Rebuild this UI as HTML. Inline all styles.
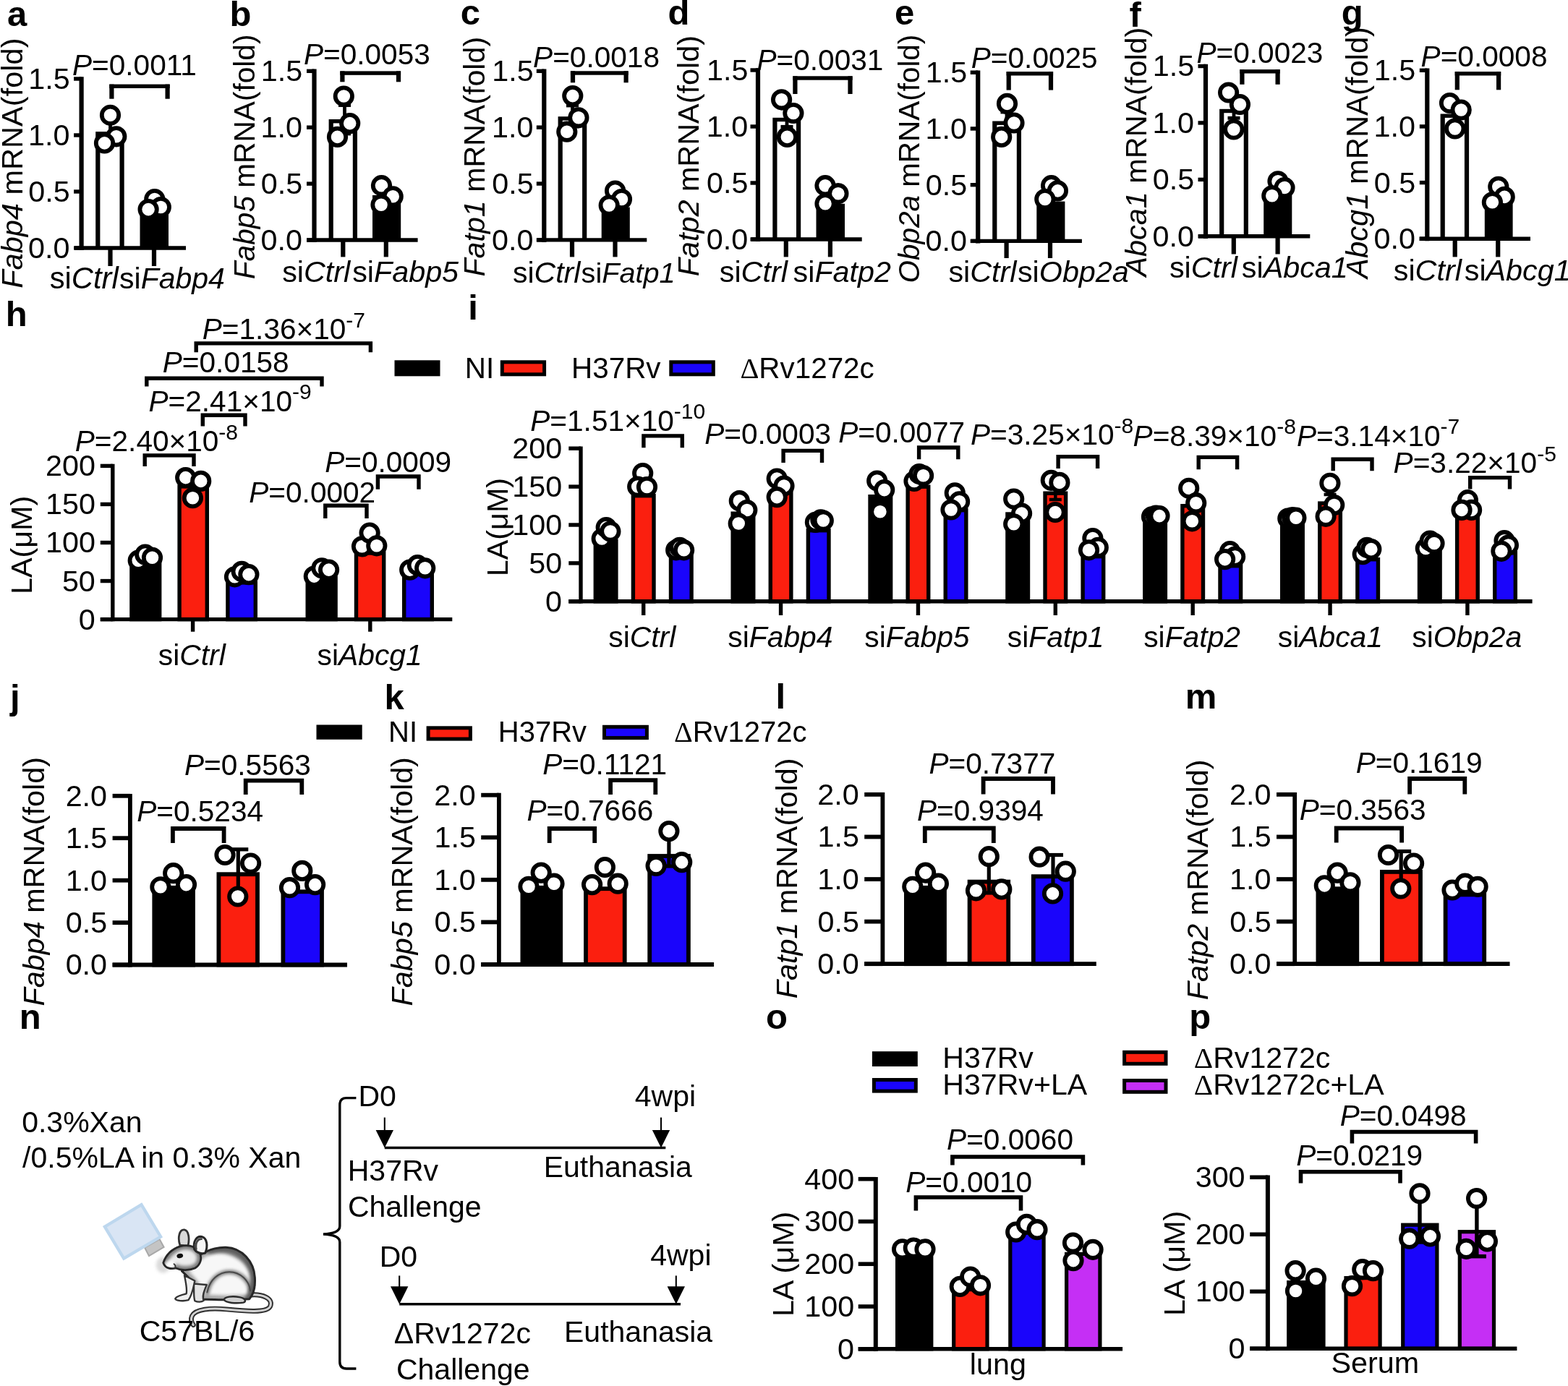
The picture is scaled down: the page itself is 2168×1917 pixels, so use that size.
<!DOCTYPE html>
<html lang="en"><head><meta charset="utf-8"><title>Figure</title>
<style>html,body{margin:0;padding:0;background:#fff}svg{display:block}text{font-family:"Liberation Sans",Arial,sans-serif;fill:#000}</style></head>
<body>
<svg xmlns="http://www.w3.org/2000/svg" width="2168" height="1917" viewBox="0 0 2168 1917">
<rect width="2168" height="1917" fill="#fff"/>
<text x="9.93" y="35.6" font-size="49" font-weight="bold">a</text>
<text x="31" y="398.85" font-size="41.56" transform="rotate(-90 31 398.85)"><tspan font-style="italic">Fabp4</tspan><tspan> mRNA(fold)</tspan></text>
<rect x="132.2" y="182.1" width="39.5" height="160.9" fill="#000"/>
<rect x="138.4" y="187.5" width="27.1" height="155.5" fill="#fff"/>
<rect x="193.5" y="286" width="39.5" height="57" fill="#000"/>
<line x1="112.6" y1="106.3" x2="112.6" y2="346.1" stroke="#000" stroke-width="6.2"/>
<line x1="102.1" y1="343" x2="112.6" y2="343" stroke="#000" stroke-width="5.4"/>
<text x="39.04" y="356.99" font-size="41.3">0.0</text>
<line x1="102.1" y1="265" x2="112.6" y2="265" stroke="#000" stroke-width="5.4"/>
<text x="39.24" y="278.99" font-size="41.3">0.5</text>
<line x1="102.1" y1="187" x2="112.6" y2="187" stroke="#000" stroke-width="5.4"/>
<text x="39.04" y="200.99" font-size="41.3">1.0</text>
<line x1="102.1" y1="109" x2="112.6" y2="109" stroke="#000" stroke-width="5.4"/>
<text x="39.24" y="122.99" font-size="41.3">1.5</text>
<line x1="103" y1="343" x2="257" y2="343" stroke="#000" stroke-width="5.4"/>
<line x1="152.5" y1="343" x2="152.5" y2="368" stroke="#000" stroke-width="6.2"/>
<line x1="213" y1="343" x2="213" y2="368" stroke="#000" stroke-width="6.2"/>
<line x1="152.5" y1="168" x2="152.5" y2="196" stroke="#000" stroke-width="4.8"/>
<line x1="144" y1="168" x2="161" y2="168" stroke="#000" stroke-width="4.8"/>
<line x1="144" y1="196" x2="161" y2="196" stroke="#000" stroke-width="4.8"/>
<circle cx="152.5" cy="159.3" r="11.7" fill="#fff" stroke="#000" stroke-width="5.8"/>
<circle cx="160.8" cy="188.8" r="11.7" fill="#fff" stroke="#000" stroke-width="5.8"/>
<circle cx="144.5" cy="197.9" r="11.7" fill="#fff" stroke="#000" stroke-width="5.8"/>
<circle cx="213.8" cy="275.5" r="11.7" fill="#fff" stroke="#000" stroke-width="5.8"/>
<circle cx="222.3" cy="286.5" r="11.7" fill="#fff" stroke="#000" stroke-width="5.8"/>
<circle cx="205.1" cy="289.6" r="11.7" fill="#fff" stroke="#000" stroke-width="5.8"/>
<rect x="151.3" y="116.6" width="6.2" height="20.1" fill="#000"/>
<rect x="228.5" y="116.6" width="6.2" height="20.1" fill="#000"/>
<rect x="151.3" y="116.6" width="83.4" height="5.4" fill="#000"/>
<text x="99.98" y="104" font-size="40.6"><tspan font-style="italic">P</tspan><tspan>=0.0011</tspan></text>
<text x="68.65" y="398.6" font-size="41.72"><tspan>si</tspan><tspan font-style="italic">Ctrl</tspan></text>
<text x="165.07" y="398.6" font-size="40.98"><tspan>si</tspan><tspan font-style="italic">Fabp4</tspan></text>
<text x="317.62" y="36.2" font-size="49" font-weight="bold">b</text>
<text x="352" y="386.22" font-size="40.64" transform="rotate(-90 352 386.22)"><tspan font-style="italic">Fabp5</tspan><tspan> mRNA(fold)</tspan></text>
<rect x="454.6" y="165" width="39.4" height="167" fill="#000"/>
<rect x="460.8" y="170.4" width="27" height="161.6" fill="#fff"/>
<rect x="515" y="270" width="39.2" height="62" fill="#000"/>
<line x1="434.5" y1="95.6" x2="434.5" y2="335.1" stroke="#000" stroke-width="6.2"/>
<line x1="424" y1="332" x2="434.5" y2="332" stroke="#000" stroke-width="5.4"/>
<text x="360.54" y="345.99" font-size="41.3">0.0</text>
<line x1="424" y1="254.1" x2="434.5" y2="254.1" stroke="#000" stroke-width="5.4"/>
<text x="360.75" y="268.09" font-size="41.3">0.5</text>
<line x1="424" y1="176.2" x2="434.5" y2="176.2" stroke="#000" stroke-width="5.4"/>
<text x="360.54" y="190.19" font-size="41.3">1.0</text>
<line x1="424" y1="98.3" x2="434.5" y2="98.3" stroke="#000" stroke-width="5.4"/>
<text x="360.75" y="112.29" font-size="41.3">1.5</text>
<line x1="424.2" y1="332" x2="577.6" y2="332" stroke="#000" stroke-width="5.4"/>
<line x1="474.3" y1="332" x2="474.3" y2="355.4" stroke="#000" stroke-width="6.2"/>
<line x1="533.8" y1="332" x2="533.8" y2="355.4" stroke="#000" stroke-width="6.2"/>
<line x1="476.5" y1="145.6" x2="476.5" y2="185" stroke="#000" stroke-width="4.8"/>
<line x1="468" y1="145.6" x2="485" y2="145.6" stroke="#000" stroke-width="4.8"/>
<line x1="468" y1="185" x2="485" y2="185" stroke="#000" stroke-width="4.8"/>
<circle cx="475.3" cy="133" r="11.7" fill="#fff" stroke="#000" stroke-width="5.8"/>
<circle cx="483.7" cy="170.6" r="11.7" fill="#fff" stroke="#000" stroke-width="5.8"/>
<circle cx="466.5" cy="189.4" r="11.7" fill="#fff" stroke="#000" stroke-width="5.8"/>
<circle cx="527.5" cy="256.7" r="11.7" fill="#fff" stroke="#000" stroke-width="5.8"/>
<circle cx="543.2" cy="271.8" r="11.7" fill="#fff" stroke="#000" stroke-width="5.8"/>
<circle cx="527" cy="283.3" r="11.7" fill="#fff" stroke="#000" stroke-width="5.8"/>
<rect x="470.3" y="98.4" width="6.2" height="14.9" fill="#000"/>
<rect x="547.9" y="98.4" width="6.2" height="14.9" fill="#000"/>
<rect x="470.3" y="98.4" width="83.8" height="5.4" fill="#000"/>
<text x="419.88" y="88.6" font-size="40.6"><tspan font-style="italic">P</tspan><tspan>=0.0053</tspan></text>
<text x="390.16" y="389.8" font-size="41.3"><tspan>si</tspan><tspan font-style="italic">Ctrl</tspan></text>
<text x="487.16" y="389.8" font-size="41.3"><tspan>si</tspan><tspan font-style="italic">Fabp5</tspan></text>
<text x="636.64" y="33.5" font-size="49" font-weight="bold">c</text>
<text x="670" y="382.54" font-size="41.17" transform="rotate(-90 670 382.54)"><tspan font-style="italic">Fatp1</tspan><tspan> mRNA(fold)</tspan></text>
<rect x="771.6" y="161.2" width="39.7" height="170.7" fill="#000"/>
<rect x="777.8" y="166.6" width="27.3" height="165.3" fill="#fff"/>
<rect x="831.7" y="286.5" width="39.1" height="45.4" fill="#000"/>
<line x1="752.3" y1="95.6" x2="752.3" y2="335" stroke="#000" stroke-width="6.2"/>
<line x1="741.8" y1="331.9" x2="752.3" y2="331.9" stroke="#000" stroke-width="5.4"/>
<text x="680.04" y="345.89" font-size="41.3">0.0</text>
<line x1="741.8" y1="254.03" x2="752.3" y2="254.03" stroke="#000" stroke-width="5.4"/>
<text x="680.25" y="268.02" font-size="41.3">0.5</text>
<line x1="741.8" y1="176.17" x2="752.3" y2="176.17" stroke="#000" stroke-width="5.4"/>
<text x="680.04" y="190.15" font-size="41.3">1.0</text>
<line x1="741.8" y1="98.3" x2="752.3" y2="98.3" stroke="#000" stroke-width="5.4"/>
<text x="680.25" y="112.29" font-size="41.3">1.5</text>
<line x1="742.5" y1="331.9" x2="894.3" y2="331.9" stroke="#000" stroke-width="5.4"/>
<line x1="791" y1="331.9" x2="791" y2="355.4" stroke="#000" stroke-width="6.2"/>
<line x1="850.5" y1="331.9" x2="850.5" y2="355.4" stroke="#000" stroke-width="6.2"/>
<line x1="791.5" y1="146" x2="791.5" y2="175" stroke="#000" stroke-width="4.8"/>
<line x1="783" y1="146" x2="800" y2="146" stroke="#000" stroke-width="4.8"/>
<line x1="783" y1="175" x2="800" y2="175" stroke="#000" stroke-width="4.8"/>
<circle cx="791.8" cy="132.6" r="11.7" fill="#fff" stroke="#000" stroke-width="5.8"/>
<circle cx="799.9" cy="162.8" r="11.7" fill="#fff" stroke="#000" stroke-width="5.8"/>
<circle cx="783.8" cy="182.2" r="11.7" fill="#fff" stroke="#000" stroke-width="5.8"/>
<circle cx="850.6" cy="264" r="11.7" fill="#fff" stroke="#000" stroke-width="5.8"/>
<circle cx="859.5" cy="275.5" r="11.7" fill="#fff" stroke="#000" stroke-width="5.8"/>
<circle cx="842.2" cy="284" r="11.7" fill="#fff" stroke="#000" stroke-width="5.8"/>
<rect x="788.9" y="98.3" width="6.2" height="16" fill="#000"/>
<rect x="862.5" y="98.3" width="6.2" height="16" fill="#000"/>
<rect x="788.9" y="98.3" width="79.8" height="5.4" fill="#000"/>
<text x="737.08" y="93.4" font-size="40.6"><tspan font-style="italic">P</tspan><tspan>=0.0018</tspan></text>
<text x="708.97" y="390.6" font-size="41.02"><tspan>si</tspan><tspan font-style="italic">Ctrl</tspan></text>
<text x="803.61" y="390.6" font-size="39.66"><tspan>si</tspan><tspan font-style="italic">Fatp1</tspan></text>
<text x="923.54" y="33.5" font-size="49" font-weight="bold">d</text>
<text x="966.5" y="382.34" font-size="41.37" transform="rotate(-90 966.5 382.34)"><tspan font-style="italic">Fatp2</tspan><tspan> mRNA(fold)</tspan></text>
<rect x="1068.3" y="162.8" width="38.9" height="168.2" fill="#000"/>
<rect x="1074.5" y="168.2" width="26.5" height="162.8" fill="#fff"/>
<rect x="1128.5" y="281.8" width="39.5" height="49.2" fill="#000"/>
<line x1="1048" y1="94.3" x2="1048" y2="334.1" stroke="#000" stroke-width="6.2"/>
<line x1="1037.5" y1="331" x2="1048" y2="331" stroke="#000" stroke-width="5.4"/>
<text x="976.84" y="344.99" font-size="41.3">0.0</text>
<line x1="1037.5" y1="253" x2="1048" y2="253" stroke="#000" stroke-width="5.4"/>
<text x="977.04" y="266.99" font-size="41.3">0.5</text>
<line x1="1037.5" y1="175" x2="1048" y2="175" stroke="#000" stroke-width="5.4"/>
<text x="976.84" y="188.99" font-size="41.3">1.0</text>
<line x1="1037.5" y1="97" x2="1048" y2="97" stroke="#000" stroke-width="5.4"/>
<text x="977.04" y="110.99" font-size="41.3">1.5</text>
<line x1="1038.5" y1="331" x2="1191.7" y2="331" stroke="#000" stroke-width="5.4"/>
<line x1="1086.8" y1="331" x2="1086.8" y2="355.4" stroke="#000" stroke-width="6.2"/>
<line x1="1147.9" y1="331" x2="1147.9" y2="355.4" stroke="#000" stroke-width="6.2"/>
<line x1="1088" y1="150" x2="1088" y2="175.3" stroke="#000" stroke-width="4.8"/>
<line x1="1079.5" y1="150" x2="1096.5" y2="150" stroke="#000" stroke-width="4.8"/>
<line x1="1079.5" y1="175.3" x2="1096.5" y2="175.3" stroke="#000" stroke-width="4.8"/>
<circle cx="1080.6" cy="137.8" r="11.7" fill="#fff" stroke="#000" stroke-width="5.8"/>
<circle cx="1096.9" cy="156.5" r="11.7" fill="#fff" stroke="#000" stroke-width="5.8"/>
<circle cx="1088.4" cy="189.4" r="11.7" fill="#fff" stroke="#000" stroke-width="5.8"/>
<circle cx="1141" cy="256.7" r="11.7" fill="#fff" stroke="#000" stroke-width="5.8"/>
<circle cx="1158.9" cy="267.7" r="11.7" fill="#fff" stroke="#000" stroke-width="5.8"/>
<circle cx="1141" cy="281.8" r="11.7" fill="#fff" stroke="#000" stroke-width="5.8"/>
<rect x="1096.3" y="105.3" width="6.2" height="24.7" fill="#000"/>
<rect x="1172.4" y="105.3" width="6.2" height="24.7" fill="#000"/>
<rect x="1096.3" y="105.3" width="82.3" height="5.4" fill="#000"/>
<text x="1046.48" y="97" font-size="40.6"><tspan font-style="italic">P</tspan><tspan>=0.0031</tspan></text>
<text x="994.76" y="389.8" font-size="41.3"><tspan>si</tspan><tspan font-style="italic">Ctrl</tspan></text>
<text x="1096.56" y="389.8" font-size="41.3"><tspan>si</tspan><tspan font-style="italic">Fatp2</tspan></text>
<text x="1237.04" y="33.5" font-size="49" font-weight="bold">e</text>
<text x="1271" y="391.52" font-size="40.45" transform="rotate(-90 1271 391.52)"><tspan font-style="italic">Obp2a</tspan><tspan> mRNA(fold)</tspan></text>
<rect x="1372.2" y="167.5" width="39.8" height="165.9" fill="#000"/>
<rect x="1378.4" y="172.9" width="27.4" height="160.5" fill="#fff"/>
<rect x="1433.3" y="278.6" width="39.1" height="54.8" fill="#000"/>
<line x1="1352.2" y1="97.5" x2="1352.2" y2="336.5" stroke="#000" stroke-width="6.2"/>
<line x1="1341.7" y1="333.4" x2="1352.2" y2="333.4" stroke="#000" stroke-width="5.4"/>
<text x="1279.54" y="347.39" font-size="41.3">0.0</text>
<line x1="1341.7" y1="255.67" x2="1352.2" y2="255.67" stroke="#000" stroke-width="5.4"/>
<text x="1279.74" y="269.65" font-size="41.3">0.5</text>
<line x1="1341.7" y1="177.93" x2="1352.2" y2="177.93" stroke="#000" stroke-width="5.4"/>
<text x="1279.54" y="191.92" font-size="41.3">1.0</text>
<line x1="1341.7" y1="100.2" x2="1352.2" y2="100.2" stroke="#000" stroke-width="5.4"/>
<text x="1279.74" y="114.19" font-size="41.3">1.5</text>
<line x1="1342.5" y1="333.4" x2="1495.9" y2="333.4" stroke="#000" stroke-width="5.4"/>
<line x1="1391.6" y1="333.4" x2="1391.6" y2="357" stroke="#000" stroke-width="6.2"/>
<line x1="1452" y1="333.4" x2="1452" y2="357" stroke="#000" stroke-width="6.2"/>
<line x1="1392" y1="155" x2="1392" y2="180" stroke="#000" stroke-width="4.8"/>
<line x1="1383.5" y1="155" x2="1400.5" y2="155" stroke="#000" stroke-width="4.8"/>
<line x1="1383.5" y1="180" x2="1400.5" y2="180" stroke="#000" stroke-width="4.8"/>
<circle cx="1392.5" cy="143.4" r="11.7" fill="#fff" stroke="#000" stroke-width="5.8"/>
<circle cx="1402" cy="170" r="11.7" fill="#fff" stroke="#000" stroke-width="5.8"/>
<circle cx="1384.7" cy="189.4" r="11.7" fill="#fff" stroke="#000" stroke-width="5.8"/>
<circle cx="1453.6" cy="256.7" r="11.7" fill="#fff" stroke="#000" stroke-width="5.8"/>
<circle cx="1462.4" cy="263.9" r="11.7" fill="#fff" stroke="#000" stroke-width="5.8"/>
<circle cx="1444.8" cy="275.5" r="11.7" fill="#fff" stroke="#000" stroke-width="5.8"/>
<rect x="1391.6" y="99.1" width="6.2" height="25.5" fill="#000"/>
<rect x="1449.9" y="99.1" width="6.2" height="25.5" fill="#000"/>
<rect x="1391.6" y="99.1" width="64.5" height="5.4" fill="#000"/>
<text x="1342.78" y="94" font-size="40.6"><tspan font-style="italic">P</tspan><tspan>=0.0025</tspan></text>
<text x="1311.46" y="389.8" font-size="41.3"><tspan>si</tspan><tspan font-style="italic">Ctrl</tspan></text>
<text x="1406.96" y="389.8" font-size="41.3"><tspan>si</tspan><tspan font-style="italic">Obp2a</tspan></text>
<text x="1561.57" y="37" font-size="49" font-weight="bold">f</text>
<text x="1585" y="382.53" font-size="41.38" transform="rotate(-90 1585 382.53)"><tspan font-style="italic">Abca1</tspan><tspan> mRNA(fold)</tspan></text>
<rect x="1686.1" y="150.8" width="39.8" height="176" fill="#000"/>
<rect x="1692.3" y="156.2" width="27.4" height="170.6" fill="#fff"/>
<rect x="1747.2" y="263.5" width="39.1" height="63.3" fill="#000"/>
<line x1="1667" y1="88.8" x2="1667" y2="329.9" stroke="#000" stroke-width="6.2"/>
<line x1="1656.5" y1="326.8" x2="1667" y2="326.8" stroke="#000" stroke-width="5.4"/>
<text x="1593.54" y="340.79" font-size="41.3">0.0</text>
<line x1="1656.5" y1="248.37" x2="1667" y2="248.37" stroke="#000" stroke-width="5.4"/>
<text x="1593.74" y="262.35" font-size="41.3">0.5</text>
<line x1="1656.5" y1="169.93" x2="1667" y2="169.93" stroke="#000" stroke-width="5.4"/>
<text x="1593.54" y="183.92" font-size="41.3">1.0</text>
<line x1="1656.5" y1="91.5" x2="1667" y2="91.5" stroke="#000" stroke-width="5.4"/>
<text x="1593.74" y="105.49" font-size="41.3">1.5</text>
<line x1="1657" y1="326.8" x2="1811.3" y2="326.8" stroke="#000" stroke-width="5.4"/>
<line x1="1705.8" y1="326.8" x2="1705.8" y2="351.5" stroke="#000" stroke-width="6.2"/>
<line x1="1766.6" y1="326.8" x2="1766.6" y2="351.5" stroke="#000" stroke-width="6.2"/>
<line x1="1706" y1="138" x2="1706" y2="163.3" stroke="#000" stroke-width="4.8"/>
<line x1="1697.5" y1="138" x2="1714.5" y2="138" stroke="#000" stroke-width="4.8"/>
<line x1="1697.5" y1="163.3" x2="1714.5" y2="163.3" stroke="#000" stroke-width="4.8"/>
<circle cx="1698.6" cy="128" r="11.7" fill="#fff" stroke="#000" stroke-width="5.8"/>
<circle cx="1714.4" cy="144.5" r="11.7" fill="#fff" stroke="#000" stroke-width="5.8"/>
<circle cx="1705.8" cy="179" r="11.7" fill="#fff" stroke="#000" stroke-width="5.8"/>
<circle cx="1767" cy="250.8" r="11.7" fill="#fff" stroke="#000" stroke-width="5.8"/>
<circle cx="1776" cy="259.5" r="11.7" fill="#fff" stroke="#000" stroke-width="5.8"/>
<circle cx="1758.8" cy="270.8" r="11.7" fill="#fff" stroke="#000" stroke-width="5.8"/>
<rect x="1714.3" y="96.1" width="6.2" height="20.7" fill="#000"/>
<rect x="1763.5" y="96.1" width="6.2" height="20.7" fill="#000"/>
<rect x="1714.3" y="96.1" width="55.4" height="5.4" fill="#000"/>
<text x="1654.48" y="87.2" font-size="40.6"><tspan font-style="italic">P</tspan><tspan>=0.0023</tspan></text>
<text x="1616.96" y="383.5" font-size="41.3"><tspan>si</tspan><tspan font-style="italic">Ctrl</tspan></text>
<text x="1716.86" y="383.5" font-size="41.31"><tspan>si</tspan><tspan font-style="italic">Abca1</tspan></text>
<text x="1854.74" y="34.2" font-size="49" font-weight="bold">g</text>
<text x="1891" y="384.91" font-size="41.74" transform="rotate(-90 1891 384.91)"><tspan font-style="italic">Abcg1</tspan><tspan> mRNA(fold)</tspan></text>
<rect x="1991.6" y="157.5" width="39.5" height="172.7" fill="#000"/>
<rect x="1997.8" y="162.9" width="27.1" height="167.3" fill="#fff"/>
<rect x="2052.8" y="280.2" width="38.8" height="50" fill="#000"/>
<line x1="1973.3" y1="94.6" x2="1973.3" y2="333.3" stroke="#000" stroke-width="6.2"/>
<line x1="1962.8" y1="330.2" x2="1973.3" y2="330.2" stroke="#000" stroke-width="5.4"/>
<text x="1899.54" y="344.19" font-size="41.3">0.0</text>
<line x1="1962.8" y1="252.57" x2="1973.3" y2="252.57" stroke="#000" stroke-width="5.4"/>
<text x="1899.74" y="266.55" font-size="41.3">0.5</text>
<line x1="1962.8" y1="174.93" x2="1973.3" y2="174.93" stroke="#000" stroke-width="5.4"/>
<text x="1899.54" y="188.92" font-size="41.3">1.0</text>
<line x1="1962.8" y1="97.3" x2="1973.3" y2="97.3" stroke="#000" stroke-width="5.4"/>
<text x="1899.74" y="111.29" font-size="41.3">1.5</text>
<line x1="1962.6" y1="330.2" x2="2116" y2="330.2" stroke="#000" stroke-width="5.4"/>
<line x1="2011.7" y1="330.2" x2="2011.7" y2="355.4" stroke="#000" stroke-width="6.2"/>
<line x1="2071.2" y1="330.2" x2="2071.2" y2="355.4" stroke="#000" stroke-width="6.2"/>
<line x1="2011" y1="146" x2="2011" y2="170" stroke="#000" stroke-width="4.8"/>
<line x1="2002.5" y1="146" x2="2019.5" y2="146" stroke="#000" stroke-width="4.8"/>
<line x1="2002.5" y1="170" x2="2019.5" y2="170" stroke="#000" stroke-width="4.8"/>
<circle cx="2004.5" cy="142.5" r="11.7" fill="#fff" stroke="#000" stroke-width="5.8"/>
<circle cx="2020.2" cy="152" r="11.7" fill="#fff" stroke="#000" stroke-width="5.8"/>
<circle cx="2011.7" cy="178" r="11.7" fill="#fff" stroke="#000" stroke-width="5.8"/>
<circle cx="2071.8" cy="258.3" r="11.7" fill="#fff" stroke="#000" stroke-width="5.8"/>
<circle cx="2080.2" cy="272.4" r="11.7" fill="#fff" stroke="#000" stroke-width="5.8"/>
<circle cx="2063.4" cy="279.8" r="11.7" fill="#fff" stroke="#000" stroke-width="5.8"/>
<rect x="2011.7" y="99.1" width="6.2" height="25.2" fill="#000"/>
<rect x="2069" y="99.1" width="6.2" height="25.2" fill="#000"/>
<rect x="2011.7" y="99.1" width="63.5" height="5.4" fill="#000"/>
<text x="1964.58" y="91.5" font-size="40.6"><tspan font-style="italic">P</tspan><tspan>=0.0008</tspan></text>
<text x="1926.76" y="388.2" font-size="41.3"><tspan>si</tspan><tspan font-style="italic">Ctrl</tspan></text>
<text x="2024.76" y="388.2" font-size="41.3"><tspan>si</tspan><tspan font-style="italic">Abcg1</tspan></text>
<text x="7.87" y="450.7" font-size="49" font-weight="bold">h</text>
<text x="44.5" y="821.95" font-size="41.3" transform="rotate(-90 44.5 821.95)">LA(μM)</text>
<rect x="181.9" y="779.5" width="38.8" height="77.1" fill="#000" stroke="#000" stroke-width="5.4"/>
<rect x="248.1" y="672.9" width="38.2" height="183.7" fill="#fb1f0f" stroke="#000" stroke-width="5.4"/>
<rect x="314.9" y="805.9" width="38.4" height="50.7" fill="#1a05fb" stroke="#000" stroke-width="5.4"/>
<rect x="425.2" y="798.9" width="38.9" height="57.7" fill="#000" stroke="#000" stroke-width="5.4"/>
<rect x="492.5" y="765" width="38.2" height="91.6" fill="#fb1f0f" stroke="#000" stroke-width="5.4"/>
<rect x="558.7" y="794.5" width="38.6" height="62.1" fill="#1a05fb" stroke="#000" stroke-width="5.4"/>
<line x1="155.8" y1="641.7" x2="155.8" y2="859.3" stroke="#000" stroke-width="5.4"/>
<line x1="138.8" y1="856.6" x2="155.8" y2="856.6" stroke="#000" stroke-width="5.4"/>
<text x="108.82" y="870.59" font-size="41.3">0</text>
<line x1="138.8" y1="803.55" x2="155.8" y2="803.55" stroke="#000" stroke-width="5.4"/>
<text x="85.9" y="817.54" font-size="41.3">50</text>
<line x1="138.8" y1="750.5" x2="155.8" y2="750.5" stroke="#000" stroke-width="5.4"/>
<text x="62.98" y="764.49" font-size="41.3">100</text>
<line x1="138.8" y1="697.45" x2="155.8" y2="697.45" stroke="#000" stroke-width="5.4"/>
<text x="62.98" y="711.44" font-size="41.3">150</text>
<line x1="138.8" y1="644.4" x2="155.8" y2="644.4" stroke="#000" stroke-width="5.4"/>
<text x="62.98" y="658.39" font-size="41.3">200</text>
<line x1="138.8" y1="856.6" x2="625.3" y2="856.6" stroke="#000" stroke-width="5.4"/>
<line x1="266.6" y1="856.6" x2="266.6" y2="873.7" stroke="#000" stroke-width="5.4"/>
<line x1="511.8" y1="856.6" x2="511.8" y2="873.7" stroke="#000" stroke-width="5.4"/>
<circle cx="191.2" cy="775.2" r="11.7" fill="#fff" stroke="#000" stroke-width="5.8"/>
<circle cx="200.8" cy="767.1" r="11.7" fill="#fff" stroke="#000" stroke-width="5.8"/>
<circle cx="210.5" cy="771.3" r="11.7" fill="#fff" stroke="#000" stroke-width="5.8"/>
<circle cx="256.7" cy="660.6" r="11.7" fill="#fff" stroke="#000" stroke-width="5.8"/>
<circle cx="277.7" cy="665.4" r="11.7" fill="#fff" stroke="#000" stroke-width="5.8"/>
<circle cx="266.4" cy="688.7" r="11.7" fill="#fff" stroke="#000" stroke-width="5.8"/>
<circle cx="324.5" cy="797.8" r="11.7" fill="#fff" stroke="#000" stroke-width="5.8"/>
<circle cx="334.2" cy="790.4" r="11.7" fill="#fff" stroke="#000" stroke-width="5.8"/>
<circle cx="343.9" cy="794.6" r="11.7" fill="#fff" stroke="#000" stroke-width="5.8"/>
<circle cx="434.3" cy="797.1" r="11.7" fill="#fff" stroke="#000" stroke-width="5.8"/>
<circle cx="445" cy="785.8" r="11.7" fill="#fff" stroke="#000" stroke-width="5.8"/>
<circle cx="454.6" cy="788.1" r="11.7" fill="#fff" stroke="#000" stroke-width="5.8"/>
<circle cx="500.5" cy="755.8" r="11.7" fill="#fff" stroke="#000" stroke-width="5.8"/>
<circle cx="511.1" cy="737.1" r="11.7" fill="#fff" stroke="#000" stroke-width="5.8"/>
<circle cx="520.8" cy="754.8" r="11.7" fill="#fff" stroke="#000" stroke-width="5.8"/>
<circle cx="566.7" cy="788.1" r="11.7" fill="#fff" stroke="#000" stroke-width="5.8"/>
<circle cx="577.3" cy="781.6" r="11.7" fill="#fff" stroke="#000" stroke-width="5.8"/>
<circle cx="587.7" cy="785.8" r="11.7" fill="#fff" stroke="#000" stroke-width="5.8"/>
<text x="279.78" y="469" font-size="40.6"><tspan font-style="italic">P</tspan><tspan>=1.36×10</tspan><tspan font-size="30.04" dy="-16.24">-7</tspan></text>
<polyline points="271.2,487.2 271.2,474.9 512.4,474.9 512.4,487.2" fill="none" stroke="#000" stroke-width="5.4" stroke-linejoin="miter"/>
<text x="224.78" y="515.3" font-size="40.6"><tspan font-style="italic">P</tspan><tspan>=0.0158</tspan></text>
<polyline points="202.8,534.6 202.8,523.3 445,523.3 445,534.6" fill="none" stroke="#000" stroke-width="5.4" stroke-linejoin="miter"/>
<text x="205.48" y="568.5" font-size="40.6"><tspan font-style="italic">P</tspan><tspan>=2.41×10</tspan><tspan font-size="30.04" dy="-16.24">-9</tspan></text>
<polyline points="280.3,589.5 280.3,574.3 339,574.3 339,589.5" fill="none" stroke="#000" stroke-width="5.4" stroke-linejoin="miter"/>
<text x="103.78" y="624" font-size="40.6"><tspan font-style="italic">P</tspan><tspan>=2.40×10</tspan><tspan font-size="30.04" dy="-16.24">-8</tspan></text>
<polyline points="200.2,645 200.2,629.9 268,629.9 268,645" fill="none" stroke="#000" stroke-width="5.4" stroke-linejoin="miter"/>
<text x="449.18" y="652.5" font-size="40.6"><tspan font-style="italic">P</tspan><tspan>=0.0009</tspan></text>
<polyline points="522.4,676.7 522.4,659 579,659 579,676.7" fill="none" stroke="#000" stroke-width="5.4" stroke-linejoin="miter"/>
<text x="344.28" y="694.5" font-size="40.6"><tspan font-style="italic">P</tspan><tspan>=0.0002</tspan></text>
<polyline points="449.8,717 449.8,699.3 507,699.3 507,717" fill="none" stroke="#000" stroke-width="5.4" stroke-linejoin="miter"/>
<text x="218.82" y="919.8" font-size="40.8"><tspan>si</tspan><tspan font-style="italic">Ctrl</tspan></text>
<text x="438.56" y="919.8" font-size="40.8"><tspan>si</tspan><tspan font-style="italic">Abcg1</tspan></text>
<rect x="545.5" y="498.3" width="63" height="22" fill="#000"/>
<text x="642.77" y="522.8" font-size="40.4">NI</text>
<rect x="694.3" y="500.8" width="58.3" height="17" fill="#fb1f0f" stroke="#000" stroke-width="5"/>
<text x="790.07" y="522.8" font-size="40.4">H37Rv</text>
<rect x="927.8" y="500.8" width="58.5" height="17" fill="#1a05fb" stroke="#000" stroke-width="5"/>
<text x="1023.38" y="522.8" font-size="40.4"><tspan font-family="Liberation Serif, serif" font-size="40.4">Δ</tspan><tspan>Rv1272c</tspan></text>
<text x="647.17" y="441.9" font-size="49" font-weight="bold">i</text>
<text x="702.4" y="797.15" font-size="41.3" transform="rotate(-90 702.4 797.15)">LA(μM)</text>
<rect x="823.3" y="748.2" width="28.6" height="83.6" fill="#000" stroke="#000" stroke-width="5.4"/>
<rect x="875.4" y="685.7" width="28.6" height="146.1" fill="#fb1f0f" stroke="#000" stroke-width="5.4"/>
<rect x="927.5" y="768.7" width="28.6" height="63.1" fill="#1a05fb" stroke="#000" stroke-width="5.4"/>
<rect x="1013.17" y="710.2" width="28.6" height="121.6" fill="#000" stroke="#000" stroke-width="5.4"/>
<rect x="1065.27" y="681.7" width="28.6" height="150.1" fill="#fb1f0f" stroke="#000" stroke-width="5.4"/>
<rect x="1117.37" y="733.7" width="28.6" height="98.1" fill="#1a05fb" stroke="#000" stroke-width="5.4"/>
<rect x="1203.04" y="686.7" width="28.6" height="145.1" fill="#000" stroke="#000" stroke-width="5.4"/>
<rect x="1255.14" y="673.2" width="28.6" height="158.6" fill="#fb1f0f" stroke="#000" stroke-width="5.4"/>
<rect x="1307.24" y="705.7" width="28.6" height="126.1" fill="#1a05fb" stroke="#000" stroke-width="5.4"/>
<rect x="1392.91" y="711" width="28.6" height="120.8" fill="#000" stroke="#000" stroke-width="5.4"/>
<rect x="1445.01" y="682.2" width="28.6" height="149.6" fill="#fb1f0f" stroke="#000" stroke-width="5.4"/>
<rect x="1497.11" y="769.7" width="28.6" height="62.1" fill="#1a05fb" stroke="#000" stroke-width="5.4"/>
<rect x="1582.78" y="716.7" width="28.6" height="115.1" fill="#000" stroke="#000" stroke-width="5.4"/>
<rect x="1634.88" y="699.7" width="28.6" height="132.1" fill="#fb1f0f" stroke="#000" stroke-width="5.4"/>
<rect x="1686.98" y="782.7" width="28.6" height="49.1" fill="#1a05fb" stroke="#000" stroke-width="5.4"/>
<rect x="1772.65" y="718.7" width="28.6" height="113.1" fill="#000" stroke="#000" stroke-width="5.4"/>
<rect x="1824.75" y="696.1" width="28.6" height="135.7" fill="#fb1f0f" stroke="#000" stroke-width="5.4"/>
<rect x="1876.85" y="773.7" width="28.6" height="58.1" fill="#1a05fb" stroke="#000" stroke-width="5.4"/>
<rect x="1962.52" y="761.2" width="28.6" height="70.6" fill="#000" stroke="#000" stroke-width="5.4"/>
<rect x="2014.62" y="713.7" width="28.6" height="118.1" fill="#fb1f0f" stroke="#000" stroke-width="5.4"/>
<rect x="2066.72" y="764.7" width="28.6" height="67.1" fill="#1a05fb" stroke="#000" stroke-width="5.4"/>
<line x1="803" y1="617.5" x2="803" y2="834.5" stroke="#000" stroke-width="5.4"/>
<line x1="786.3" y1="831.8" x2="803" y2="831.8" stroke="#000" stroke-width="5.4"/>
<text x="754.12" y="845.79" font-size="41.3">0</text>
<line x1="786.3" y1="778.9" x2="803" y2="778.9" stroke="#000" stroke-width="5.4"/>
<text x="731.2" y="792.89" font-size="41.3">50</text>
<line x1="786.3" y1="726" x2="803" y2="726" stroke="#000" stroke-width="5.4"/>
<text x="708.28" y="739.99" font-size="41.3">100</text>
<line x1="786.3" y1="673.1" x2="803" y2="673.1" stroke="#000" stroke-width="5.4"/>
<text x="708.28" y="687.09" font-size="41.3">150</text>
<line x1="786.3" y1="620.2" x2="803" y2="620.2" stroke="#000" stroke-width="5.4"/>
<text x="708.28" y="634.19" font-size="41.3">200</text>
<line x1="786.3" y1="831.8" x2="2118.6" y2="831.8" stroke="#000" stroke-width="5.4"/>
<line x1="889.7" y1="831.8" x2="889.7" y2="851" stroke="#000" stroke-width="5.4"/>
<line x1="1079.57" y1="831.8" x2="1079.57" y2="851" stroke="#000" stroke-width="5.4"/>
<line x1="1269.44" y1="831.8" x2="1269.44" y2="851" stroke="#000" stroke-width="5.4"/>
<line x1="1459.31" y1="831.8" x2="1459.31" y2="851" stroke="#000" stroke-width="5.4"/>
<line x1="1649.18" y1="831.8" x2="1649.18" y2="851" stroke="#000" stroke-width="5.4"/>
<line x1="1839.05" y1="831.8" x2="1839.05" y2="851" stroke="#000" stroke-width="5.4"/>
<line x1="2028.92" y1="831.8" x2="2028.92" y2="851" stroke="#000" stroke-width="5.4"/>
<line x1="1459.31" y1="666" x2="1459.31" y2="691" stroke="#000" stroke-width="4.5"/>
<line x1="1450.81" y1="691" x2="1467.81" y2="691" stroke="#000" stroke-width="4.5"/>
<line x1="1839.05" y1="684" x2="1839.05" y2="700" stroke="#000" stroke-width="4.5"/>
<line x1="1830.55" y1="684" x2="1847.55" y2="684" stroke="#000" stroke-width="4.5"/>
<circle cx="832.2" cy="745" r="11.7" fill="#fff" stroke="#000" stroke-width="5.8"/>
<circle cx="838.2" cy="729.5" r="11.7" fill="#fff" stroke="#000" stroke-width="5.8"/>
<circle cx="843.9" cy="735" r="11.7" fill="#fff" stroke="#000" stroke-width="5.8"/>
<circle cx="888.7" cy="654.5" r="11.7" fill="#fff" stroke="#000" stroke-width="5.8"/>
<circle cx="881.7" cy="673" r="11.7" fill="#fff" stroke="#000" stroke-width="5.8"/>
<circle cx="894.5" cy="673.5" r="11.7" fill="#fff" stroke="#000" stroke-width="5.8"/>
<circle cx="934.7" cy="760.8" r="11.7" fill="#fff" stroke="#000" stroke-width="5.8"/>
<circle cx="939.8" cy="757.3" r="11.7" fill="#fff" stroke="#000" stroke-width="5.8"/>
<circle cx="945.6" cy="760.8" r="11.7" fill="#fff" stroke="#000" stroke-width="5.8"/>
<text x="841.32" y="894.8" font-size="40.8"><tspan>si</tspan><tspan font-style="italic">Ctrl</tspan></text>
<circle cx="1022.3" cy="692.7" r="11.7" fill="#fff" stroke="#000" stroke-width="5.8"/>
<circle cx="1032.8" cy="705.5" r="11.7" fill="#fff" stroke="#000" stroke-width="5.8"/>
<circle cx="1021.2" cy="724" r="11.7" fill="#fff" stroke="#000" stroke-width="5.8"/>
<circle cx="1074.2" cy="662" r="11.7" fill="#fff" stroke="#000" stroke-width="5.8"/>
<circle cx="1084" cy="672" r="11.7" fill="#fff" stroke="#000" stroke-width="5.8"/>
<circle cx="1074.2" cy="687.6" r="11.7" fill="#fff" stroke="#000" stroke-width="5.8"/>
<circle cx="1127.4" cy="722.4" r="11.7" fill="#fff" stroke="#000" stroke-width="5.8"/>
<circle cx="1134.8" cy="718.8" r="11.7" fill="#fff" stroke="#000" stroke-width="5.8"/>
<circle cx="1138.3" cy="720" r="11.7" fill="#fff" stroke="#000" stroke-width="5.8"/>
<text x="1006.31" y="894.8" font-size="40.8"><tspan>si</tspan><tspan font-style="italic">Fabp4</tspan></text>
<circle cx="1212.7" cy="665" r="11.7" fill="#fff" stroke="#000" stroke-width="5.8"/>
<circle cx="1222.7" cy="677.6" r="11.7" fill="#fff" stroke="#000" stroke-width="5.8"/>
<circle cx="1216.9" cy="707.8" r="11.7" fill="#fff" stroke="#000" stroke-width="5.8"/>
<circle cx="1264" cy="665.5" r="11.7" fill="#fff" stroke="#000" stroke-width="5.8"/>
<circle cx="1271" cy="655.5" r="11.7" fill="#fff" stroke="#000" stroke-width="5.8"/>
<circle cx="1276.6" cy="657.8" r="11.7" fill="#fff" stroke="#000" stroke-width="5.8"/>
<circle cx="1320.3" cy="681.8" r="11.7" fill="#fff" stroke="#000" stroke-width="5.8"/>
<circle cx="1326.6" cy="693.8" r="11.7" fill="#fff" stroke="#000" stroke-width="5.8"/>
<circle cx="1315" cy="705" r="11.7" fill="#fff" stroke="#000" stroke-width="5.8"/>
<text x="1195.36" y="894.8" font-size="40.8"><tspan>si</tspan><tspan font-style="italic">Fabp5</tspan></text>
<circle cx="1401.7" cy="690" r="11.7" fill="#fff" stroke="#000" stroke-width="5.8"/>
<circle cx="1412.6" cy="710" r="11.7" fill="#fff" stroke="#000" stroke-width="5.8"/>
<circle cx="1401.7" cy="724.8" r="11.7" fill="#fff" stroke="#000" stroke-width="5.8"/>
<circle cx="1453.3" cy="664.3" r="11.7" fill="#fff" stroke="#000" stroke-width="5.8"/>
<circle cx="1464.9" cy="667.4" r="11.7" fill="#fff" stroke="#000" stroke-width="5.8"/>
<circle cx="1459" cy="708.5" r="11.7" fill="#fff" stroke="#000" stroke-width="5.8"/>
<circle cx="1510.9" cy="744.5" r="11.7" fill="#fff" stroke="#000" stroke-width="5.8"/>
<circle cx="1518.3" cy="757.3" r="11.7" fill="#fff" stroke="#000" stroke-width="5.8"/>
<circle cx="1505.5" cy="760.8" r="11.7" fill="#fff" stroke="#000" stroke-width="5.8"/>
<text x="1392.78" y="894.8" font-size="40.8"><tspan>si</tspan><tspan font-style="italic">Fatp1</tspan></text>
<circle cx="1592.5" cy="714.8" r="11.7" fill="#fff" stroke="#000" stroke-width="5.8"/>
<circle cx="1598.3" cy="713.1" r="11.7" fill="#fff" stroke="#000" stroke-width="5.8"/>
<circle cx="1603" cy="713.6" r="11.7" fill="#fff" stroke="#000" stroke-width="5.8"/>
<circle cx="1643.7" cy="675.3" r="11.7" fill="#fff" stroke="#000" stroke-width="5.8"/>
<circle cx="1653.7" cy="695.7" r="11.7" fill="#fff" stroke="#000" stroke-width="5.8"/>
<circle cx="1648.3" cy="720.8" r="11.7" fill="#fff" stroke="#000" stroke-width="5.8"/>
<circle cx="1700.6" cy="762.6" r="11.7" fill="#fff" stroke="#000" stroke-width="5.8"/>
<circle cx="1707.6" cy="770.1" r="11.7" fill="#fff" stroke="#000" stroke-width="5.8"/>
<circle cx="1693.6" cy="773.6" r="11.7" fill="#fff" stroke="#000" stroke-width="5.8"/>
<text x="1581.22" y="894.8" font-size="40.8"><tspan>si</tspan><tspan font-style="italic">Fatp2</tspan></text>
<circle cx="1780.8" cy="717.1" r="11.7" fill="#fff" stroke="#000" stroke-width="5.8"/>
<circle cx="1786.6" cy="715.5" r="11.7" fill="#fff" stroke="#000" stroke-width="5.8"/>
<circle cx="1791.9" cy="716.2" r="11.7" fill="#fff" stroke="#000" stroke-width="5.8"/>
<circle cx="1838.9" cy="668.3" r="11.7" fill="#fff" stroke="#000" stroke-width="5.8"/>
<circle cx="1844.7" cy="698.5" r="11.7" fill="#fff" stroke="#000" stroke-width="5.8"/>
<circle cx="1833.1" cy="714.3" r="11.7" fill="#fff" stroke="#000" stroke-width="5.8"/>
<circle cx="1884.2" cy="766.6" r="11.7" fill="#fff" stroke="#000" stroke-width="5.8"/>
<circle cx="1890" cy="757.3" r="11.7" fill="#fff" stroke="#000" stroke-width="5.8"/>
<circle cx="1895.8" cy="759.6" r="11.7" fill="#fff" stroke="#000" stroke-width="5.8"/>
<text x="1766.81" y="894.8" font-size="40.8"><tspan>si</tspan><tspan font-style="italic">Abca1</tspan></text>
<circle cx="1971.3" cy="758.5" r="11.7" fill="#fff" stroke="#000" stroke-width="5.8"/>
<circle cx="1977.2" cy="748" r="11.7" fill="#fff" stroke="#000" stroke-width="5.8"/>
<circle cx="1983" cy="751.5" r="11.7" fill="#fff" stroke="#000" stroke-width="5.8"/>
<circle cx="2029.4" cy="691.7" r="11.7" fill="#fff" stroke="#000" stroke-width="5.8"/>
<circle cx="2034.6" cy="705.4" r="11.7" fill="#fff" stroke="#000" stroke-width="5.8"/>
<circle cx="2021" cy="705.4" r="11.7" fill="#fff" stroke="#000" stroke-width="5.8"/>
<circle cx="2080" cy="747.7" r="11.7" fill="#fff" stroke="#000" stroke-width="5.8"/>
<circle cx="2085.4" cy="754" r="11.7" fill="#fff" stroke="#000" stroke-width="5.8"/>
<circle cx="2075.9" cy="762.3" r="11.7" fill="#fff" stroke="#000" stroke-width="5.8"/>
<text x="1952.29" y="894.8" font-size="40.8"><tspan>si</tspan><tspan font-style="italic">Obp2a</tspan></text>
<text x="733.28" y="595.5" font-size="40.6"><tspan font-style="italic">P</tspan><tspan>=1.51×10</tspan><tspan font-size="30.04" dy="-16.24">-10</tspan></text>
<polyline points="889.9,619.3 889.9,602.9 943.3,602.9 943.3,619.3" fill="none" stroke="#000" stroke-width="5.4" stroke-linejoin="miter"/>
<text x="974.18" y="614.4" font-size="40.6"><tspan font-style="italic">P</tspan><tspan>=0.0003</tspan></text>
<polyline points="1083.1,639.9 1083.1,623.4 1136.5,623.4 1136.5,639.9" fill="none" stroke="#000" stroke-width="5.4" stroke-linejoin="miter"/>
<text x="1159.18" y="612.4" font-size="40.6"><tspan font-style="italic">P</tspan><tspan>=0.0077</tspan></text>
<polyline points="1270.6,635.2 1270.6,619 1324.8,619 1324.8,635.2" fill="none" stroke="#000" stroke-width="5.4" stroke-linejoin="miter"/>
<text x="1341.98" y="615.4" font-size="40.6"><tspan font-style="italic">P</tspan><tspan>=3.25×10</tspan><tspan font-size="30.04" dy="-16.24">-8</tspan></text>
<polyline points="1463.1,648 1463.1,631.6 1517.6,631.6 1517.6,648" fill="none" stroke="#000" stroke-width="5.4" stroke-linejoin="miter"/>
<text x="1566.58" y="616.5" font-size="40.6"><tspan font-style="italic">P</tspan><tspan>=8.39×10</tspan><tspan font-size="30.04" dy="-16.24">-8</tspan></text>
<polyline points="1657.2,649.3 1657.2,632.4 1710.6,632.4 1710.6,649.3" fill="none" stroke="#000" stroke-width="5.4" stroke-linejoin="miter"/>
<text x="1792.98" y="616.5" font-size="40.6"><tspan font-style="italic">P</tspan><tspan>=3.14×10</tspan><tspan font-size="30.04" dy="-16.24">-7</tspan></text>
<polyline points="1843.2,651.2 1843.2,635.2 1897,635.2 1897,651.2" fill="none" stroke="#000" stroke-width="5.4" stroke-linejoin="miter"/>
<text x="1926.58" y="654.3" font-size="40.6"><tspan font-style="italic">P</tspan><tspan>=3.22×10</tspan><tspan font-size="30.04" dy="-16.24">-5</tspan></text>
<polyline points="2032.7,676.4 2032.7,660.6 2087.5,660.6 2087.5,676.4" fill="none" stroke="#000" stroke-width="5.4" stroke-linejoin="miter"/>
<text x="13.93" y="981.1" font-size="49" font-weight="bold">j</text>
<text x="60.8" y="1391.38" font-size="41.3" transform="rotate(-90 60.8 1391.38)"><tspan font-style="italic">Fabp4</tspan><tspan> mRNA(fold)</tspan></text>
<rect x="213.3" y="1227.8" width="53.7" height="106.7" fill="#000" stroke="#000" stroke-width="5.8"/>
<rect x="302.4" y="1209.2" width="53.6" height="125.3" fill="#fb1f0f" stroke="#000" stroke-width="5.8"/>
<rect x="391.4" y="1233.3" width="53.6" height="101.2" fill="#1a05fb" stroke="#000" stroke-width="5.8"/>
<line x1="179.9" y1="1097.9" x2="179.9" y2="1337.4" stroke="#000" stroke-width="5.8"/>
<line x1="155.6" y1="1334.5" x2="179.9" y2="1334.5" stroke="#000" stroke-width="5.8"/>
<text x="90.64" y="1348.49" font-size="41.3">0.0</text>
<line x1="155.6" y1="1276.08" x2="179.9" y2="1276.08" stroke="#000" stroke-width="5.8"/>
<text x="90.84" y="1290.06" font-size="41.3">0.5</text>
<line x1="155.6" y1="1217.65" x2="179.9" y2="1217.65" stroke="#000" stroke-width="5.8"/>
<text x="90.64" y="1231.64" font-size="41.3">1.0</text>
<line x1="155.6" y1="1159.22" x2="179.9" y2="1159.22" stroke="#000" stroke-width="5.8"/>
<text x="90.84" y="1173.21" font-size="41.3">1.5</text>
<line x1="155.6" y1="1100.8" x2="179.9" y2="1100.8" stroke="#000" stroke-width="5.8"/>
<text x="90.64" y="1114.79" font-size="41.3">2.0</text>
<line x1="155.6" y1="1334.5" x2="480" y2="1334.5" stroke="#000" stroke-width="5.8"/>
<line x1="329.3" y1="1174.8" x2="329.3" y2="1238" stroke="#000" stroke-width="5.2"/>
<line x1="315.3" y1="1174.8" x2="343.3" y2="1174.8" stroke="#000" stroke-width="5.2"/>
<circle cx="221.9" cy="1226.8" r="11.7" fill="#fff" stroke="#000" stroke-width="5.8"/>
<circle cx="239.7" cy="1207.7" r="11.7" fill="#fff" stroke="#000" stroke-width="5.8"/>
<circle cx="257.5" cy="1223.6" r="11.7" fill="#fff" stroke="#000" stroke-width="5.8"/>
<circle cx="311" cy="1182.5" r="11.7" fill="#fff" stroke="#000" stroke-width="5.8"/>
<circle cx="346.6" cy="1194" r="11.7" fill="#fff" stroke="#000" stroke-width="5.8"/>
<circle cx="328.8" cy="1240" r="11.7" fill="#fff" stroke="#000" stroke-width="5.8"/>
<circle cx="400.5" cy="1227.7" r="11.7" fill="#fff" stroke="#000" stroke-width="5.8"/>
<circle cx="417.8" cy="1204.4" r="11.7" fill="#fff" stroke="#000" stroke-width="5.8"/>
<circle cx="435.6" cy="1223.6" r="11.7" fill="#fff" stroke="#000" stroke-width="5.8"/>
<text x="254.98" y="1072.3" font-size="40.6"><tspan font-style="italic">P</tspan><tspan>=0.5563</tspan></text>
<polyline points="339.7,1098.9 339.7,1079.7 417.3,1079.7 417.3,1098.9" fill="none" stroke="#000" stroke-width="5.8" stroke-linejoin="miter"/>
<text x="189.18" y="1135.9" font-size="40.6"><tspan font-style="italic">P</tspan><tspan>=0.5234</tspan></text>
<polyline points="238.9,1166 238.9,1146 309.6,1146 309.6,1166" fill="none" stroke="#000" stroke-width="5.8" stroke-linejoin="miter"/>
<text x="531.57" y="981.1" font-size="49" font-weight="bold">k</text>
<text x="570.4" y="1391.38" font-size="41.3" transform="rotate(-90 570.4 1391.38)"><tspan font-style="italic">Fabp5</tspan><tspan> mRNA(fold)</tspan></text>
<rect x="722.4" y="1227.8" width="52.8" height="106.2" fill="#000" stroke="#000" stroke-width="5.8"/>
<rect x="810" y="1229.2" width="53.7" height="104.8" fill="#fb1f0f" stroke="#000" stroke-width="5.8"/>
<rect x="898.2" y="1184" width="53.7" height="150" fill="#1a05fb" stroke="#000" stroke-width="5.8"/>
<line x1="689.9" y1="1096.8" x2="689.9" y2="1336.9" stroke="#000" stroke-width="5.8"/>
<line x1="665.2" y1="1334" x2="689.9" y2="1334" stroke="#000" stroke-width="5.8"/>
<text x="600.24" y="1347.99" font-size="41.3">0.0</text>
<line x1="665.2" y1="1275.42" x2="689.9" y2="1275.42" stroke="#000" stroke-width="5.8"/>
<text x="600.45" y="1289.41" font-size="41.3">0.5</text>
<line x1="665.2" y1="1216.85" x2="689.9" y2="1216.85" stroke="#000" stroke-width="5.8"/>
<text x="600.24" y="1230.84" font-size="41.3">1.0</text>
<line x1="665.2" y1="1158.28" x2="689.9" y2="1158.28" stroke="#000" stroke-width="5.8"/>
<text x="600.45" y="1172.26" font-size="41.3">1.5</text>
<line x1="665.2" y1="1099.7" x2="689.9" y2="1099.7" stroke="#000" stroke-width="5.8"/>
<text x="600.24" y="1113.69" font-size="41.3">2.0</text>
<line x1="665.2" y1="1334" x2="987.1" y2="1334" stroke="#000" stroke-width="5.8"/>
<line x1="924.9" y1="1150" x2="924.9" y2="1198" stroke="#000" stroke-width="5.2"/>
<line x1="910.9" y1="1198" x2="938.9" y2="1198" stroke="#000" stroke-width="5.2"/>
<circle cx="731" cy="1226.3" r="11.7" fill="#fff" stroke="#000" stroke-width="5.8"/>
<circle cx="748.2" cy="1207.1" r="11.7" fill="#fff" stroke="#000" stroke-width="5.8"/>
<circle cx="766" cy="1222.2" r="11.7" fill="#fff" stroke="#000" stroke-width="5.8"/>
<circle cx="818.6" cy="1223.6" r="11.7" fill="#fff" stroke="#000" stroke-width="5.8"/>
<circle cx="836.4" cy="1199.5" r="11.7" fill="#fff" stroke="#000" stroke-width="5.8"/>
<circle cx="854.2" cy="1222.2" r="11.7" fill="#fff" stroke="#000" stroke-width="5.8"/>
<circle cx="924.9" cy="1149.6" r="11.7" fill="#fff" stroke="#000" stroke-width="5.8"/>
<circle cx="907.1" cy="1197.5" r="11.7" fill="#fff" stroke="#000" stroke-width="5.8"/>
<circle cx="942.7" cy="1192.6" r="11.7" fill="#fff" stroke="#000" stroke-width="5.8"/>
<text x="750.28" y="1071" font-size="40.6"><tspan font-style="italic">P</tspan><tspan>=0.1121</tspan></text>
<polyline points="844.1,1098.9 844.1,1079.2 906.3,1079.2 906.3,1098.9" fill="none" stroke="#000" stroke-width="5.8" stroke-linejoin="miter"/>
<text x="728.38" y="1135.1" font-size="40.6"><tspan font-style="italic">P</tspan><tspan>=0.7666</tspan></text>
<polyline points="759.7,1166 759.7,1146 822.2,1146 822.2,1166" fill="none" stroke="#000" stroke-width="5.8" stroke-linejoin="miter"/>
<text x="1072.57" y="979.7" font-size="49" font-weight="bold">l</text>
<text x="1101.6" y="1381.28" font-size="41.3" transform="rotate(-90 1101.6 1381.28)"><tspan font-style="italic">Fatp1</tspan><tspan> mRNA(fold)</tspan></text>
<rect x="1252.9" y="1227.8" width="53.1" height="105.4" fill="#000" stroke="#000" stroke-width="5.8"/>
<rect x="1340.6" y="1219.6" width="53.6" height="113.6" fill="#fb1f0f" stroke="#000" stroke-width="5.8"/>
<rect x="1428.8" y="1212.2" width="53.1" height="121" fill="#1a05fb" stroke="#000" stroke-width="5.8"/>
<line x1="1220.4" y1="1096" x2="1220.4" y2="1336.1" stroke="#000" stroke-width="5.8"/>
<line x1="1195.2" y1="1333.2" x2="1220.4" y2="1333.2" stroke="#000" stroke-width="5.8"/>
<text x="1130.24" y="1347.19" font-size="41.3">0.0</text>
<line x1="1195.2" y1="1274.62" x2="1220.4" y2="1274.62" stroke="#000" stroke-width="5.8"/>
<text x="1130.44" y="1288.61" font-size="41.3">0.5</text>
<line x1="1195.2" y1="1216.05" x2="1220.4" y2="1216.05" stroke="#000" stroke-width="5.8"/>
<text x="1130.24" y="1230.04" font-size="41.3">1.0</text>
<line x1="1195.2" y1="1157.48" x2="1220.4" y2="1157.48" stroke="#000" stroke-width="5.8"/>
<text x="1130.44" y="1171.46" font-size="41.3">1.5</text>
<line x1="1195.2" y1="1098.9" x2="1220.4" y2="1098.9" stroke="#000" stroke-width="5.8"/>
<text x="1130.24" y="1112.89" font-size="41.3">2.0</text>
<line x1="1195.2" y1="1333.2" x2="1515.8" y2="1333.2" stroke="#000" stroke-width="5.8"/>
<line x1="1367.3" y1="1185" x2="1367.3" y2="1235" stroke="#000" stroke-width="5.2"/>
<line x1="1353.3" y1="1235" x2="1381.3" y2="1235" stroke="#000" stroke-width="5.2"/>
<line x1="1456" y1="1182.5" x2="1456" y2="1236" stroke="#000" stroke-width="5.2"/>
<line x1="1442" y1="1182.5" x2="1470" y2="1182.5" stroke="#000" stroke-width="5.2"/>
<circle cx="1261.8" cy="1226.3" r="11.7" fill="#fff" stroke="#000" stroke-width="5.8"/>
<circle cx="1279.6" cy="1207.1" r="11.7" fill="#fff" stroke="#000" stroke-width="5.8"/>
<circle cx="1297.4" cy="1222.2" r="11.7" fill="#fff" stroke="#000" stroke-width="5.8"/>
<circle cx="1367.3" cy="1184.7" r="11.7" fill="#fff" stroke="#000" stroke-width="5.8"/>
<circle cx="1349.5" cy="1231.8" r="11.7" fill="#fff" stroke="#000" stroke-width="5.8"/>
<circle cx="1384.8" cy="1229.9" r="11.7" fill="#fff" stroke="#000" stroke-width="5.8"/>
<circle cx="1437.1" cy="1185.2" r="11.7" fill="#fff" stroke="#000" stroke-width="5.8"/>
<circle cx="1473.3" cy="1205.2" r="11.7" fill="#fff" stroke="#000" stroke-width="5.8"/>
<circle cx="1455.5" cy="1235.9" r="11.7" fill="#fff" stroke="#000" stroke-width="5.8"/>
<text x="1284.38" y="1070.1" font-size="40.6"><tspan font-style="italic">P</tspan><tspan>=0.7377</tspan></text>
<polyline points="1359.6,1098.4 1359.6,1077 1456,1077 1456,1098.4" fill="none" stroke="#000" stroke-width="5.8" stroke-linejoin="miter"/>
<text x="1267.98" y="1134.5" font-size="40.6"><tspan font-style="italic">P</tspan><tspan>=0.9394</tspan></text>
<polyline points="1278.8,1166 1278.8,1145.5 1373.8,1145.5 1373.8,1166" fill="none" stroke="#000" stroke-width="5.8" stroke-linejoin="miter"/>
<text x="1638.82" y="979.8" font-size="49" font-weight="bold">m</text>
<text x="1670.3" y="1383.28" font-size="41.3" transform="rotate(-90 1670.3 1383.28)"><tspan font-style="italic">Fatp2</tspan><tspan> mRNA(fold)</tspan></text>
<rect x="1822.4" y="1229.2" width="53.9" height="104" fill="#000" stroke="#000" stroke-width="5.8"/>
<rect x="1910.9" y="1205.9" width="53.1" height="127.3" fill="#fb1f0f" stroke="#000" stroke-width="5.8"/>
<rect x="1998.6" y="1237.4" width="53.6" height="95.8" fill="#1a05fb" stroke="#000" stroke-width="5.8"/>
<line x1="1790.2" y1="1096" x2="1790.2" y2="1336.1" stroke="#000" stroke-width="5.8"/>
<line x1="1765" y1="1333.2" x2="1790.2" y2="1333.2" stroke="#000" stroke-width="5.8"/>
<text x="1700.04" y="1347.19" font-size="41.3">0.0</text>
<line x1="1765" y1="1274.62" x2="1790.2" y2="1274.62" stroke="#000" stroke-width="5.8"/>
<text x="1700.24" y="1288.61" font-size="41.3">0.5</text>
<line x1="1765" y1="1216.05" x2="1790.2" y2="1216.05" stroke="#000" stroke-width="5.8"/>
<text x="1700.04" y="1230.04" font-size="41.3">1.0</text>
<line x1="1765" y1="1157.48" x2="1790.2" y2="1157.48" stroke="#000" stroke-width="5.8"/>
<text x="1700.24" y="1171.46" font-size="41.3">1.5</text>
<line x1="1765" y1="1098.9" x2="1790.2" y2="1098.9" stroke="#000" stroke-width="5.8"/>
<text x="1700.04" y="1112.89" font-size="41.3">2.0</text>
<line x1="1765" y1="1333.2" x2="2087.5" y2="1333.2" stroke="#000" stroke-width="5.8"/>
<line x1="1937.2" y1="1177.5" x2="1937.2" y2="1229" stroke="#000" stroke-width="5.2"/>
<line x1="1923.2" y1="1177.5" x2="1951.2" y2="1177.5" stroke="#000" stroke-width="5.2"/>
<circle cx="1831.3" cy="1224.9" r="11.7" fill="#fff" stroke="#000" stroke-width="5.8"/>
<circle cx="1849.1" cy="1207.1" r="11.7" fill="#fff" stroke="#000" stroke-width="5.8"/>
<circle cx="1866.9" cy="1220.8" r="11.7" fill="#fff" stroke="#000" stroke-width="5.8"/>
<circle cx="1919.5" cy="1182.5" r="11.7" fill="#fff" stroke="#000" stroke-width="5.8"/>
<circle cx="1954.6" cy="1194" r="11.7" fill="#fff" stroke="#000" stroke-width="5.8"/>
<circle cx="1936.8" cy="1229" r="11.7" fill="#fff" stroke="#000" stroke-width="5.8"/>
<circle cx="2008" cy="1231" r="11.7" fill="#fff" stroke="#000" stroke-width="5.8"/>
<circle cx="2025.8" cy="1222.2" r="11.7" fill="#fff" stroke="#000" stroke-width="5.8"/>
<circle cx="2043.1" cy="1226.3" r="11.7" fill="#fff" stroke="#000" stroke-width="5.8"/>
<text x="1874.68" y="1068.8" font-size="40.6"><tspan font-style="italic">P</tspan><tspan>=0.1619</tspan></text>
<polyline points="1949.1,1098.4 1949.1,1077 2025.3,1077 2025.3,1098.4" fill="none" stroke="#000" stroke-width="5.8" stroke-linejoin="miter"/>
<text x="1796.68" y="1134" font-size="40.6"><tspan font-style="italic">P</tspan><tspan>=0.3563</tspan></text>
<polyline points="1847.7,1165.5 1847.7,1145.5 1938.1,1145.5 1938.1,1165.5" fill="none" stroke="#000" stroke-width="5.8" stroke-linejoin="miter"/>
<rect x="437.5" y="1002.5" width="63.2" height="20.3" fill="#000"/>
<text x="537" y="1025.6" font-size="40">NI</text>
<rect x="592.1" y="1006.8" width="58.3" height="15.3" fill="#fb1f0f" stroke="#000" stroke-width="5"/>
<text x="688.8" y="1025.6" font-size="40">H37Rv</text>
<rect x="835.5" y="1005.3" width="58.9" height="15.3" fill="#1a05fb" stroke="#000" stroke-width="5"/>
<text x="931.9" y="1025.6" font-size="40"><tspan font-family="Liberation Serif, serif" font-size="40">Δ</tspan><tspan>Rv1272c</tspan></text>
<text x="26.82" y="1422.6" font-size="49" font-weight="bold">n</text>
<polygon points="200.1,1725.6 220.7,1714 226.6,1724.9 206,1737" fill="#c4c4c4" stroke="#a8a8a8" stroke-width="2"/>
<polygon points="195.5,1666.2 222.2,1710.5 171.2,1740.6 144.8,1696.6" fill="#d9e5f4" stroke="#bdd7ee" stroke-width="4.2"/>
<defs><filter id="soft" x="-10%" y="-10%" width="120%" height="120%"><feGaussianBlur stdDeviation="5"/></filter><filter id="soft2" x="-30%" y="-30%" width="160%" height="160%"><feGaussianBlur stdDeviation="16"/></filter><clipPath id="mbody"><path d="M1040,800 C1110,690 1260,618 1405,622 C1570,628 1688,770 1696,925 C1703,1030 1680,1100 1640,1145 L1420,1152 C1300,1152 1200,1142 1135,1150 L1095,1010 C1060,950 1000,900 960,862 Z"/></clipPath><clipPath id="mhead"><path d="M772,778 C798,700 858,640 940,612 C1005,592 1082,602 1130,662 C1172,722 1150,800 1092,832 C1020,862 945,852 900,832 C850,845 790,835 772,778 Z"/></clipPath></defs>
<g transform="translate(120 1640) scale(0.13699)" stroke-linejoin="round" stroke-linecap="round">
<ellipse cx="770" cy="800" rx="70" ry="80" fill="#cfcfcf" filter="url(#soft2)" opacity="0.75"/>
<g filter="url(#soft)">
<path d="M1630,1105 C1770,1085 1890,1140 1850,1220 C1815,1285 1610,1268 1410,1248 C1250,1232 1095,1245 1062,1315 C1045,1355 1060,1385 1075,1405" fill="none" stroke="#2f2f2f" stroke-width="50"/>
<path d="M1630,1105 C1770,1085 1890,1140 1850,1220 C1815,1285 1610,1268 1410,1248 C1250,1232 1095,1245 1062,1315 C1045,1355 1060,1385 1075,1405" fill="none" stroke="#d2d2d2" stroke-width="22"/>
<path d="M940,600 C915,520 935,440 985,445 C1030,452 1040,540 1020,612 Z" fill="#d9d9d9" stroke="#333" stroke-width="20"/>
<path d="M1040,800 C1110,690 1260,618 1405,622 C1570,628 1688,770 1696,925 C1703,1030 1680,1100 1640,1145 L1420,1152 C1300,1152 1200,1142 1135,1150 L1095,1010 C1060,950 1000,900 960,862 Z" fill="#f7f7f7" stroke="none"/>
</g>
<g clip-path="url(#mbody)">
<path d="M1040,800 C1110,690 1260,618 1405,622 C1570,628 1688,770 1696,925 C1703,1030 1680,1100 1640,1145 L1420,1152 C1300,1152 1200,1142 1135,1150 L1095,1010 C1060,950 1000,900 960,862 Z" fill="none" stroke="#777" stroke-width="90" filter="url(#soft2)" opacity="0.65"/>
<path d="M1250,640 C1480,590 1700,760 1700,940 C1700,1040 1680,1100 1640,1150" fill="none" stroke="#2a2a2a" stroke-width="100" filter="url(#soft2)" opacity="0.6"/>
<path d="M1215,1085 C1240,950 1330,870 1440,870 C1550,870 1640,960 1650,1060" fill="none" stroke="#555" stroke-width="40" filter="url(#soft2)" opacity="0.8"/>
</g>
<g filter="url(#soft)">
<path d="M1040,800 C1110,690 1260,618 1405,622 C1570,628 1688,770 1696,925 C1703,1030 1680,1100 1640,1145 L1420,1152 C1300,1152 1200,1142 1135,1150 L1095,1010 C1060,950 1000,900 960,862 Z" fill="none" stroke="#262626" stroke-width="22"/>
<path d="M1215,1075 C1240,950 1330,870 1440,870 C1550,870 1640,960 1650,1060" fill="none" stroke="#4a4a4a" stroke-width="15"/>
<path d="M1385,1150 C1390,1120 1470,1112 1540,1125 C1600,1135 1615,1170 1580,1180 C1510,1190 1400,1185 1385,1150 Z" fill="#cfcfcf" stroke="#2c2c2c" stroke-width="18"/>
<path d="M1080,990 C1085,1060 1075,1110 1090,1162 C1120,1178 1160,1175 1180,1160 C1160,1110 1190,1050 1210,1000 Z" fill="#e4e4e4" stroke="#333" stroke-width="17"/>
<path d="M985,905 C1000,980 1015,1040 1005,1090 C960,1100 905,1115 892,1140 C900,1165 975,1168 1025,1155 C1060,1110 1075,1040 1090,960 Z" fill="#efefef" stroke="#333" stroke-width="17"/>
<path d="M772,778 C798,700 858,640 940,612 C1005,592 1082,602 1130,662 C1172,722 1150,800 1092,832 C1020,862 945,852 900,832 C850,845 790,835 772,778 Z" fill="#ececec" stroke="none"/>
</g>
<g clip-path="url(#mhead)">
<path d="M772,778 C798,700 858,640 940,612 C1005,592 1082,602 1130,662 C1172,722 1150,800 1092,832 C1020,862 945,852 900,832 C850,845 790,835 772,778 Z" fill="none" stroke="#555" stroke-width="80" filter="url(#soft2)" opacity="0.75"/>
<ellipse cx="840" cy="800" rx="55" ry="42" fill="#fff" filter="url(#soft2)"/>
</g>
<g filter="url(#soft)">
<path d="M772,778 C798,700 858,640 940,612 C1005,592 1082,602 1130,662 C1172,722 1150,800 1092,832 C1020,862 945,852 900,832 C850,845 790,835 772,778 Z" fill="none" stroke="#262626" stroke-width="20"/>
<path d="M1085,640 C1070,560 1110,505 1160,515 C1215,528 1225,610 1195,680 C1160,690 1110,680 1085,640 Z" fill="#f5f5f5" stroke="#262626" stroke-width="22"/>
<path d="M1105,640 C1092,580 1120,535 1158,538" fill="none" stroke="#444" stroke-width="20"/>
<path d="M880,790 C895,800 900,815 890,830" fill="none" stroke="#333" stroke-width="14"/>
<ellipse cx="940" cy="708" rx="32" ry="23" fill="#0c0c0c" stroke="none" transform="rotate(-12 940 708)"/>
</g></g>
<text x="30.16" y="1566.2" font-size="41">0.3%Xan</text>
<text x="31.1" y="1615" font-size="41">/0.5%LA in 0.3% Xan</text>
<text x="192.75" y="1854.5" font-size="41">C57BL/6</text>
<text x="495.52" y="1530.4" font-size="41">D0</text>
<text x="877.78" y="1530.4" font-size="41">4wpi</text>
<text x="480.72" y="1633" font-size="41">H37Rv</text>
<text x="480.95" y="1683.2" font-size="41">Challenge</text>
<text x="751.72" y="1628.3" font-size="41">Euthanasia</text>
<text x="524.72" y="1751.8" font-size="41">D0</text>
<text x="899.18" y="1749.6" font-size="41">4wpi</text>
<text x="544.77" y="1858.2" font-size="41">ΔRv1272c</text>
<text x="547.95" y="1907.6" font-size="41">Challenge</text>
<text x="780.02" y="1856.4" font-size="41">Euthanasia</text>
<line x1="531.8" y1="1587.6" x2="920.3" y2="1587.6" stroke="#000" stroke-width="3.5"/>
<line x1="531.8" y1="1545.6" x2="531.8" y2="1573.6" stroke="#000" stroke-width="2.1"/>
<polygon points="519.6,1563.1 544,1563.1 531.8,1587.6" fill="#000"/>
<line x1="914" y1="1545.6" x2="914" y2="1573.6" stroke="#000" stroke-width="2.1"/>
<polygon points="901.8,1563.1 926.2,1563.1 914,1587.6" fill="#000"/>
<line x1="552.2" y1="1803.8" x2="941" y2="1803.8" stroke="#000" stroke-width="3.5"/>
<line x1="552.2" y1="1764.4" x2="552.2" y2="1789.8" stroke="#000" stroke-width="2.1"/>
<polygon points="540,1779.3 564.4,1779.3 552.2,1803.8" fill="#000"/>
<line x1="934.8" y1="1764.4" x2="934.8" y2="1789.8" stroke="#000" stroke-width="2.1"/>
<polygon points="922.6,1779.3 947,1779.3 934.8,1803.8" fill="#000"/>
<path d="M492.4,1518.6 H479 Q469.8,1518.6 469.8,1528 V1696 Q469.8,1706 447,1707 Q469.8,1708 469.8,1718 V1883.5 Q469.8,1893 479,1893 H492.4" fill="none" stroke="#000" stroke-width="3.4"/>
<text x="1058.94" y="1423" font-size="49" font-weight="bold">o</text>
<text x="1644.32" y="1423" font-size="49" font-weight="bold">p</text>
<rect x="1205.9" y="1454.2" width="62.9" height="20.8" fill="#000"/>
<rect x="1208.4" y="1493.5" width="57.9" height="15.6" fill="#1a05fb" stroke="#000" stroke-width="5"/>
<rect x="1554.6" y="1455.3" width="57.4" height="16" fill="#fb1f0f" stroke="#000" stroke-width="5"/>
<rect x="1554.6" y="1494.5" width="57.4" height="15.8" fill="#c52ff5" stroke="#000" stroke-width="5"/>
<text x="1303.31" y="1477" font-size="41.1">H37Rv</text>
<text x="1303.31" y="1514.2" font-size="41.1">H37Rv+LA</text>
<text x="1650.76" y="1477" font-size="41.1"><tspan font-family="Liberation Serif, serif" font-size="41.1">Δ</tspan><tspan>Rv1272c</tspan></text>
<text x="1650.76" y="1514.2" font-size="41.1"><tspan font-family="Liberation Serif, serif" font-size="41.1">Δ</tspan><tspan>Rv1272c+LA</tspan></text>
<rect x="1240.6" y="1730.6" width="47.2" height="135.2" fill="#000" stroke="#000" stroke-width="5.2"/>
<rect x="1318.7" y="1783.6" width="46.3" height="82.2" fill="#fb1f0f" stroke="#000" stroke-width="5.2"/>
<rect x="1396.8" y="1704.4" width="46.3" height="161.4" fill="#1a05fb" stroke="#000" stroke-width="5.2"/>
<rect x="1474.6" y="1734.4" width="46.3" height="131.4" fill="#c52ff5" stroke="#000" stroke-width="5.2"/>
<text x="1097.5" y="1821.1" font-size="41.3" transform="rotate(-90 1097.5 1821.1)">LA (μM)</text>
<line x1="1210.8" y1="1627.9" x2="1210.8" y2="1868.8" stroke="#000" stroke-width="6"/>
<line x1="1186.7" y1="1865.8" x2="1210.8" y2="1865.8" stroke="#000" stroke-width="5.6"/>
<text x="1158.12" y="1879.79" font-size="41.3">0</text>
<line x1="1186.7" y1="1807.03" x2="1210.8" y2="1807.03" stroke="#000" stroke-width="5.6"/>
<text x="1112.28" y="1821.01" font-size="41.3">100</text>
<line x1="1186.7" y1="1748.25" x2="1210.8" y2="1748.25" stroke="#000" stroke-width="5.6"/>
<text x="1112.28" y="1762.24" font-size="41.3">200</text>
<line x1="1186.7" y1="1689.47" x2="1210.8" y2="1689.47" stroke="#000" stroke-width="5.6"/>
<text x="1112.28" y="1703.46" font-size="41.3">300</text>
<line x1="1186.7" y1="1630.7" x2="1210.8" y2="1630.7" stroke="#000" stroke-width="5.6"/>
<text x="1112.28" y="1644.69" font-size="41.3">400</text>
<line x1="1186.7" y1="1865.8" x2="1552.1" y2="1865.8" stroke="#000" stroke-width="5.6"/>
<circle cx="1247.6" cy="1727.8" r="11.7" fill="#fff" stroke="#000" stroke-width="5.8"/>
<circle cx="1263.3" cy="1726" r="11.7" fill="#fff" stroke="#000" stroke-width="5.8"/>
<circle cx="1279" cy="1727.8" r="11.7" fill="#fff" stroke="#000" stroke-width="5.8"/>
<circle cx="1327.3" cy="1779.4" r="11.7" fill="#fff" stroke="#000" stroke-width="5.8"/>
<circle cx="1341.7" cy="1766" r="11.7" fill="#fff" stroke="#000" stroke-width="5.8"/>
<circle cx="1355.5" cy="1777.8" r="11.7" fill="#fff" stroke="#000" stroke-width="5.8"/>
<circle cx="1404.7" cy="1704" r="11.7" fill="#fff" stroke="#000" stroke-width="5.8"/>
<circle cx="1419.5" cy="1693.3" r="11.7" fill="#fff" stroke="#000" stroke-width="5.8"/>
<circle cx="1434" cy="1700.7" r="11.7" fill="#fff" stroke="#000" stroke-width="5.8"/>
<circle cx="1483.5" cy="1719" r="11.7" fill="#fff" stroke="#000" stroke-width="5.8"/>
<circle cx="1511.1" cy="1728.3" r="11.7" fill="#fff" stroke="#000" stroke-width="5.8"/>
<circle cx="1484" cy="1743.6" r="11.7" fill="#fff" stroke="#000" stroke-width="5.8"/>
<text x="1309.08" y="1589.9" font-size="40.6"><tspan font-style="italic">P</tspan><tspan>=0.0060</tspan></text>
<polyline points="1316.9,1611.5 1316.9,1600 1497.4,1600 1497.4,1611.5" fill="none" stroke="#000" stroke-width="5.6" stroke-linejoin="miter"/>
<text x="1252.28" y="1648.5" font-size="40.6"><tspan font-style="italic">P</tspan><tspan>=0.0010</tspan></text>
<polyline points="1266.4,1674.5 1266.4,1656 1411.5,1656 1411.5,1674.5" fill="none" stroke="#000" stroke-width="5.6" stroke-linejoin="miter"/>
<text x="1340.77" y="1901.2" font-size="41.3">lung</text>
<rect x="1781.7" y="1773.6" width="48.3" height="91.7" fill="#000" stroke="#000" stroke-width="5.2"/>
<rect x="1861" y="1767.6" width="47.1" height="97.7" fill="#fb1f0f" stroke="#000" stroke-width="5.2"/>
<rect x="1939.7" y="1694.2" width="47.2" height="171.1" fill="#1a05fb" stroke="#000" stroke-width="5.2"/>
<rect x="2018.3" y="1703.7" width="47.2" height="161.6" fill="#c52ff5" stroke="#000" stroke-width="5.2"/>
<text x="1638" y="1820.1" font-size="41.3" transform="rotate(-90 1638 1820.1)">LA (μM)</text>
<line x1="1752.9" y1="1625.5" x2="1752.9" y2="1868.3" stroke="#000" stroke-width="6"/>
<line x1="1728.2" y1="1865.3" x2="1752.9" y2="1865.3" stroke="#000" stroke-width="5.6"/>
<text x="1698.52" y="1879.29" font-size="41.3">0</text>
<line x1="1728.2" y1="1786.3" x2="1752.9" y2="1786.3" stroke="#000" stroke-width="5.6"/>
<text x="1652.68" y="1800.29" font-size="41.3">100</text>
<line x1="1728.2" y1="1707.3" x2="1752.9" y2="1707.3" stroke="#000" stroke-width="5.6"/>
<text x="1652.68" y="1721.29" font-size="41.3">200</text>
<line x1="1728.2" y1="1628.3" x2="1752.9" y2="1628.3" stroke="#000" stroke-width="5.6"/>
<text x="1652.68" y="1642.29" font-size="41.3">300</text>
<line x1="1728.2" y1="1865.3" x2="2097.4" y2="1865.3" stroke="#000" stroke-width="5.6"/>
<line x1="1963" y1="1652" x2="1963" y2="1718" stroke="#000" stroke-width="5.4"/>
<line x1="1950" y1="1718" x2="1976" y2="1718" stroke="#000" stroke-width="5.4"/>
<line x1="2041.9" y1="1660" x2="2041.9" y2="1737.7" stroke="#000" stroke-width="5.4"/>
<line x1="2028.9" y1="1737.7" x2="2054.9" y2="1737.7" stroke="#000" stroke-width="5.4"/>
<circle cx="1791.1" cy="1757.6" r="11.7" fill="#fff" stroke="#000" stroke-width="5.8"/>
<circle cx="1819.5" cy="1768.2" r="11.7" fill="#fff" stroke="#000" stroke-width="5.8"/>
<circle cx="1791.5" cy="1785.5" r="11.7" fill="#fff" stroke="#000" stroke-width="5.8"/>
<circle cx="1883.8" cy="1755.7" r="11.7" fill="#fff" stroke="#000" stroke-width="5.8"/>
<circle cx="1898.5" cy="1757.6" r="11.7" fill="#fff" stroke="#000" stroke-width="5.8"/>
<circle cx="1869.5" cy="1778.7" r="11.7" fill="#fff" stroke="#000" stroke-width="5.8"/>
<circle cx="1963" cy="1650.8" r="11.7" fill="#fff" stroke="#000" stroke-width="5.8"/>
<circle cx="1948.7" cy="1713.2" r="11.7" fill="#fff" stroke="#000" stroke-width="5.8"/>
<circle cx="1977.4" cy="1709.9" r="11.7" fill="#fff" stroke="#000" stroke-width="5.8"/>
<circle cx="2041.6" cy="1657.5" r="11.7" fill="#fff" stroke="#000" stroke-width="5.8"/>
<circle cx="2027.3" cy="1727.3" r="11.7" fill="#fff" stroke="#000" stroke-width="5.8"/>
<circle cx="2056.4" cy="1716.9" r="11.7" fill="#fff" stroke="#000" stroke-width="5.8"/>
<text x="1852.78" y="1557.1" font-size="40.6"><tspan font-style="italic">P</tspan><tspan>=0.0498</tspan></text>
<polyline points="1869.4,1581.4 1869.4,1565.5 2040.6,1565.5 2040.6,1581.4" fill="none" stroke="#000" stroke-width="5.6" stroke-linejoin="miter"/>
<text x="1792.28" y="1611.8" font-size="40.6"><tspan font-style="italic">P</tspan><tspan>=0.0219</tspan></text>
<polyline points="1798.5,1636.4 1798.5,1620.8 1936,1620.8 1936,1636.4" fill="none" stroke="#000" stroke-width="5.6" stroke-linejoin="miter"/>
<text x="1840.5" y="1899" font-size="41.3">Serum</text>
</svg>
</body></html>
